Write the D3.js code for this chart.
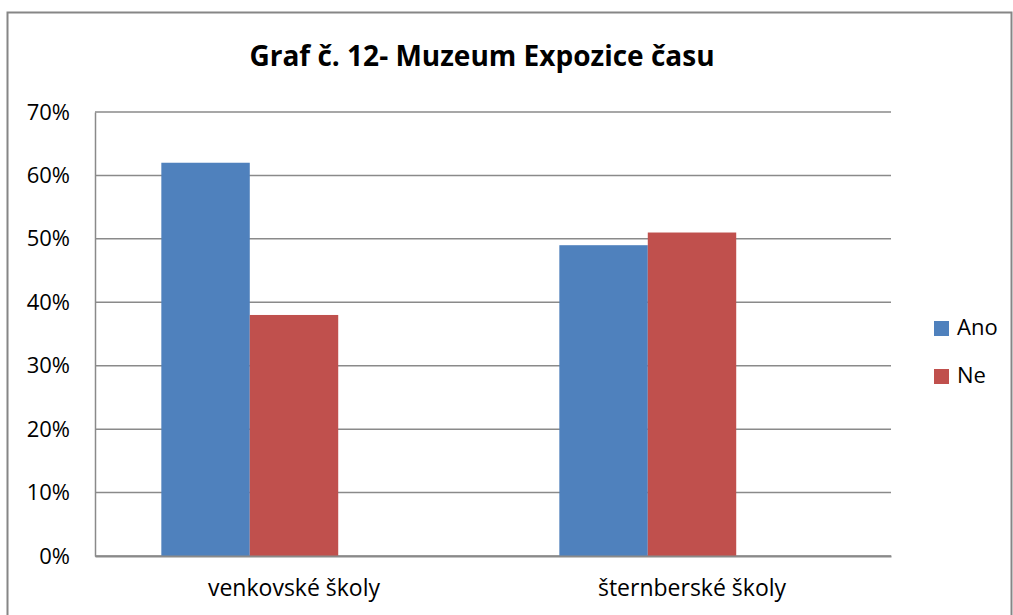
<!DOCTYPE html>
<html>
<head>
<meta charset="utf-8">
<script src="https://cdn.jsdelivr.net/npm/d3@7"></script>
<style>
  body { margin: 0; background: #fff; }
  text { font-family: "Open Sans", "DejaVu Sans", sans-serif; fill: #000; }
</style>
</head>
<body>
<div id="chart"></div>
<script>
// data
var categories = ["venkovské školy", "šternberské školy"];
var seriesNames = ["Ano", "Ne"];
var ano = [0.62, 0.49];
var ne = [0.38, 0.51];
var yTicks = [0, 0.1, 0.2, 0.3, 0.4, 0.5, 0.6, 0.7];
var title = "Graf č. 12- Muzeum Expozice času";

var colors = {"Ano": "#4F81BD", "Ne": "#C0504D"};
var width = 1013, height = 615;
var plot = {left: 95, right: 891, top: 112, bottom: 556};

var rows = categories.map(function(c, i) {
  return {cat: c, Ano: ano[i], Ne: ne[i]};
});

var svg = d3.select("#chart").append("svg")
  .attr("width", width)
  .attr("height", height);

// chart frame
svg.append("rect")
  .attr("x", 7.5).attr("y", 12.5)
  .attr("width", 1004).attr("height", 620)
  .attr("fill", "none")
  .attr("stroke", "#868686")
  .attr("stroke-width", 2);

svg.append("text")
  .attr("x", 482).attr("y", 59)
  .attr("text-anchor", "middle")
  .attr("dominant-baseline", "middle")
  .style("font-size", "28px")
  .style("font-weight", "bold")
  .text(title);

var y = d3.scaleLinear().domain([0, 0.7]).range([plot.bottom, plot.top]);
var x0 = d3.scaleBand().domain(categories).range([plot.left, plot.right]);
// excel keeps a third (empty) slot in each group, gap width 150%
var bw = x0.bandwidth();
var x1 = d3.scaleBand().domain(["Ano", "Ne", "_"]).range([bw / 6, bw * 5 / 6]);

// gridlines
svg.append("g")
  .selectAll("line")
  .data(yTicks)
  .enter().append("line")
  .attr("x1", plot.left).attr("x2", plot.right)
  .attr("y1", function(d) { return y(d); })
  .attr("y2", function(d) { return y(d); })
  .attr("stroke", "#8a8a8a")
  .attr("stroke-width", 1.5);

// bars
svg.append("g")
  .selectAll("g")
  .data(rows)
  .enter().append("g")
  .attr("transform", function(d) { return "translate(" + x0(d.cat) + ",0)"; })
  .selectAll("rect")
  .data(function(d) { return seriesNames.map(function(k) { return {key: k, value: d[k]}; }); })
  .enter().append("rect")
  .attr("x", function(d) { return x1(d.key); })
  .attr("width", x1.bandwidth())
  .attr("y", function(d) { return y(d.value); })
  .attr("height", function(d) { return y(0) - y(d.value); })
  .attr("fill", function(d) { return colors[d.key]; });

// y axis
var yAxis = svg.append("g")
  .attr("transform", "translate(" + plot.left + ",0)")
  .call(d3.axisLeft(y).tickValues(yTicks).tickFormat(d3.format(".0%")).tickSize(0).tickPadding(25));
yAxis.select(".domain").attr("stroke", "#8a8a8a").attr("stroke-width", 1.5);
yAxis.selectAll("text").style("font-size", "22px").style("font-family", "Open Sans");

// x axis
var xAxis = svg.append("g")
  .attr("transform", "translate(0," + plot.bottom + ")")
  .call(d3.axisBottom(x0).tickSize(0).tickPadding(24));
xAxis.select(".domain").attr("stroke", "#8a8a8a").attr("stroke-width", 2);
xAxis.selectAll("text").style("font-size", "23px").style("font-family", "Open Sans");

// legend
var legend = svg.append("g")
  .selectAll("g")
  .data(seriesNames)
  .enter().append("g")
  .attr("transform", function(d, i) { return "translate(934," + (321 + i * 48) + ")"; });
legend.append("rect")
  .attr("width", 15).attr("height", 15)
  .attr("fill", function(d) { return colors[d]; });
legend.append("text")
  .attr("x", 23).attr("y", 8)
  .attr("dominant-baseline", "middle")
  .style("font-size", "22px")
  .text(function(d) { return d; });
</script>
</body>
</html>
